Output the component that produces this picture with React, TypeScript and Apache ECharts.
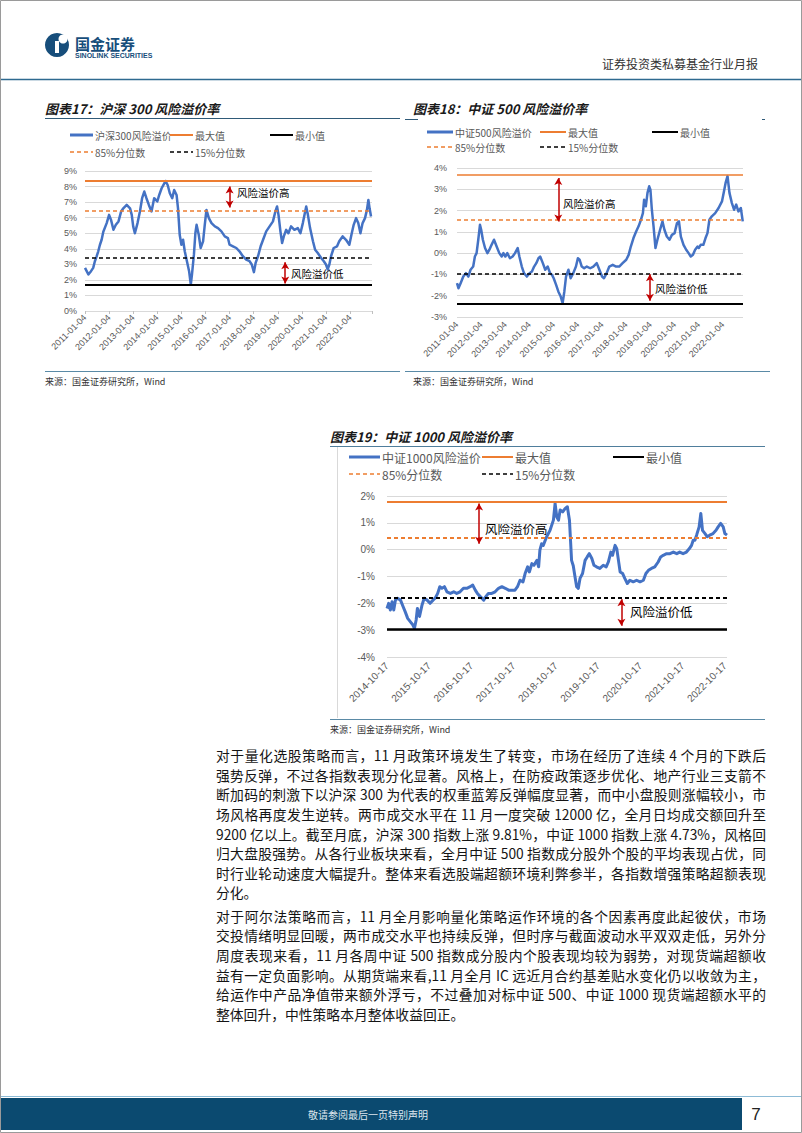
import React, { useEffect, useRef } from "react";
import * as echarts from "echarts";

// ---------- DATA ----------
// 图表17 沪深300风险溢价 (x: decimal year, y: %)
const hs300Series: [number, number][] = [
  [2011.0, 2.77], [2011.14, 2.35], [2011.25, 2.56], [2011.34, 2.77], [2011.41, 3.2], [2011.48, 3.5], [2011.55, 3.84], [2011.62, 4.26], [2011.69, 4.58], [2011.76, 5.1], [2011.9, 5.65],
  [2012.0, 6.18], [2012.08, 5.86], [2012.18, 5.22], [2012.28, 5.54], [2012.39, 5.76], [2012.5, 6.4], [2012.59, 6.6], [2012.73, 6.82], [2012.87, 6.6], [2012.94, 6.18],
  [2013.0, 5.44], [2013.07, 5.0], [2013.18, 5.65], [2013.28, 6.4], [2013.37, 7.25], [2013.46, 7.68], [2013.55, 7.25], [2013.65, 6.82], [2013.76, 6.4], [2013.87, 7.25],
  [2014.0, 7.04], [2014.08, 7.46], [2014.18, 7.89], [2014.29, 8.2], [2014.34, 8.36], [2014.43, 8.1], [2014.52, 7.57], [2014.62, 7.25], [2014.7, 7.78], [2014.8, 7.46], [2014.86, 6.6], [2014.93, 4.9],
  [2015.0, 4.26], [2015.07, 4.58], [2015.14, 3.84], [2015.23, 3.2], [2015.32, 2.56], [2015.39, 1.7], [2015.44, 2.35], [2015.52, 3.62], [2015.58, 5.0], [2015.63, 5.54], [2015.72, 4.9], [2015.8, 4.05], [2015.9, 4.48], [2015.97, 5.54],
  [2016.04, 6.5], [2016.14, 5.97], [2016.25, 5.65], [2016.39, 5.44], [2016.52, 5.33], [2016.66, 5.12], [2016.8, 4.8], [2016.93, 4.69],
  [2017.0, 4.26], [2017.14, 4.16], [2017.28, 4.05], [2017.41, 3.84], [2017.55, 3.52], [2017.69, 3.3], [2017.83, 3.2], [2017.92, 2.99],
  [2018.01, 2.5], [2018.08, 3.09], [2018.18, 3.52], [2018.29, 4.16], [2018.39, 4.58], [2018.52, 5.12], [2018.66, 5.44], [2018.8, 5.76], [2018.9, 6.4], [2018.97, 6.72],
  [2019.03, 6.18], [2019.11, 5.12], [2019.18, 4.37], [2019.25, 4.8], [2019.35, 5.22], [2019.44, 5.0], [2019.55, 5.44], [2019.69, 5.22], [2019.83, 5.33], [2019.94, 5.0],
  [2020.04, 5.65], [2020.18, 6.72], [2020.25, 6.18], [2020.34, 5.33], [2020.46, 4.48], [2020.55, 3.94], [2020.66, 3.73], [2020.8, 3.41], [2020.91, 3.2],
  [2021.0, 2.99], [2021.07, 2.67], [2021.14, 2.99], [2021.21, 3.52], [2021.32, 4.05], [2021.46, 4.16], [2021.55, 4.48], [2021.69, 4.8], [2021.83, 4.58], [2021.97, 4.26],
  [2022.07, 5.0], [2022.15, 5.54], [2022.25, 5.97], [2022.34, 5.65], [2022.43, 5.0], [2022.52, 5.65], [2022.62, 5.97], [2022.7, 6.5], [2022.76, 7.14], [2022.81, 6.6], [2022.87, 6.08],
];
// 最大值, 85%分位数, 15%分位数, 最小值
const hs300Levels = [8.38, 6.46, 3.45, 1.66];

// 图表18 中证500风险溢价
const zz500Series: [number, number][] = [
  [2011.0, -1.41], [2011.06, -1.65], [2011.15, -1.41], [2011.26, -1.1], [2011.37, -0.94], [2011.47, -1.1], [2011.56, -0.78], [2011.67, -0.63], [2011.74, -0.16], [2011.81, 0.0], [2011.88, 0.63], [2011.95, 1.33],
  [2012.0, 1.1], [2012.07, 0.63], [2012.16, 0.24], [2012.26, 0.0], [2012.34, 0.16], [2012.43, 0.39], [2012.53, 0.63], [2012.64, 0.31], [2012.75, 0.0], [2012.85, -0.16], [2012.92, 0.0],
  [2013.0, -0.16], [2013.08, 0.0], [2013.19, -0.24], [2013.3, -0.16], [2013.4, 0.0], [2013.51, 0.24], [2013.58, -0.16], [2013.68, -0.63], [2013.77, -0.94], [2013.89, -1.1],
  [2014.0, -0.94], [2014.1, -0.86], [2014.19, -0.63], [2014.28, -0.47], [2014.37, -0.24], [2014.44, -0.16], [2014.55, -0.47], [2014.65, -0.78], [2014.75, -0.63], [2014.85, -0.94], [2014.93, -1.02],
  [2015.0, -1.18], [2015.1, -1.49], [2015.19, -1.8], [2015.29, -2.04], [2015.37, -2.35], [2015.44, -1.8], [2015.51, -1.1], [2015.61, -0.78], [2015.7, -1.18], [2015.81, -0.94], [2015.92, -0.63],
  [2016.0, -0.24], [2016.07, -0.31], [2016.16, -0.63], [2016.26, -0.71], [2016.37, -0.63], [2016.51, -0.71], [2016.64, -0.63], [2016.78, -0.47], [2016.89, -0.78],
  [2017.0, -1.1], [2017.08, -1.18], [2017.19, -0.94], [2017.3, -0.63], [2017.44, -0.55], [2017.58, -0.63], [2017.71, -0.63], [2017.85, -0.47],
  [2018.0, -0.31], [2018.1, -0.08], [2018.19, 0.31], [2018.3, 0.71], [2018.41, 1.02], [2018.51, 1.26], [2018.61, 1.57], [2018.69, 1.88], [2018.74, 2.51], [2018.81, 2.2], [2018.88, 2.83], [2018.95, 3.14],
  [2019.0, 2.98], [2019.06, 2.04], [2019.13, 1.26], [2019.21, 0.24], [2019.29, 0.63], [2019.4, 1.1], [2019.5, 1.49], [2019.58, 1.1], [2019.68, 0.78], [2019.79, 0.63], [2019.89, 0.86],
  [2020.0, 0.94], [2020.1, 1.41], [2020.18, 1.49], [2020.26, 0.78], [2020.37, 0.39], [2020.48, 0.16], [2020.58, 0.0], [2020.67, -0.16], [2020.76, -0.08], [2020.85, 0.16], [2020.95, 0.31],
  [2021.0, 0.24], [2021.08, 0.39], [2021.19, 0.39], [2021.28, 0.71], [2021.36, 0.94], [2021.44, 1.57], [2021.54, 1.73], [2021.68, 1.88], [2021.82, 2.12], [2021.96, 2.43],
  [2022.03, 2.83], [2022.11, 3.3], [2022.19, 3.62], [2022.27, 2.83], [2022.37, 2.35], [2022.46, 2.04], [2022.55, 2.28], [2022.64, 1.96], [2022.74, 2.12], [2022.82, 1.49],
];
const zz500Levels = [3.66, 1.57, -0.99, -2.36];

// 图表19 中证1000风险溢价 (x: years since 2014-10-17)
const zz1000Series: [number, number][] = [
  [0.0, -2.19], [0.04, -2.0], [0.08, -2.25], [0.12, -1.94], [0.16, -2.25], [0.2, -1.88], [0.25, -1.81], [0.32, -1.88], [0.38, -2.12], [0.43, -2.31], [0.49, -2.56], [0.55, -2.68], [0.61, -2.8], [0.65, -2.93], [0.69, -2.62], [0.72, -2.19], [0.77, -2.49], [0.83, -2.06], [0.88, -1.81], [0.95, -1.88],
  [1.02, -2.0], [1.09, -1.88], [1.14, -1.81], [1.2, -1.63], [1.25, -1.38], [1.3, -1.44], [1.36, -1.38], [1.42, -1.57], [1.5, -1.63], [1.58, -1.57], [1.65, -1.63], [1.73, -1.57], [1.81, -1.44], [1.89, -1.44], [1.97, -1.38],
  [2.03, -1.32], [2.09, -1.51], [2.14, -1.63], [2.21, -1.75], [2.29, -1.88], [2.34, -1.75], [2.4, -1.63], [2.48, -1.63], [2.56, -1.57], [2.64, -1.44], [2.72, -1.38], [2.8, -1.44], [2.88, -1.51], [2.96, -1.51],
  [3.03, -1.51], [3.09, -1.38], [3.15, -1.14], [3.22, -1.2], [3.27, -0.89], [3.33, -0.64], [3.37, -0.83], [3.43, -0.52], [3.48, -0.58], [3.55, -0.4], [3.59, -0.64], [3.62, -0.02], [3.66, 0.22], [3.7, 0.16], [3.78, 0.48], [3.86, 0.72], [3.94, 1.1], [3.98, 1.72],
  [4.02, 1.22], [4.06, 1.1], [4.1, 1.48], [4.16, 1.41], [4.22, 1.54], [4.27, 1.6], [4.32, 1.1], [4.37, -0.4], [4.41, -0.6], [4.45, -1.0], [4.49, -1.38], [4.53, -1.44], [4.57, -1.07], [4.63, -0.89], [4.69, -0.4], [4.74, -0.27], [4.79, -0.15], [4.85, -0.33], [4.9, -0.58], [4.96, -0.64],
  [5.04, -0.7], [5.12, -0.58], [5.19, -0.64], [5.24, -0.46], [5.3, -0.09], [5.34, -0.21], [5.4, 0.16], [5.44, 0.04], [5.48, -0.4], [5.52, -0.83], [5.58, -0.89], [5.63, -1.07], [5.69, -1.26], [5.75, -1.14], [5.83, -1.2], [5.91, -1.14], [5.99, -1.2],
  [6.07, -1.14], [6.13, -0.89], [6.19, -0.77], [6.26, -0.7], [6.34, -0.64], [6.42, -0.46], [6.48, -0.27], [6.54, -0.21], [6.62, -0.15], [6.7, -0.15], [6.78, -0.09], [6.86, -0.15], [6.93, -0.09],
  [7.01, -0.15], [7.09, -0.09], [7.16, 0.04], [7.21, 0.16], [7.25, 0.35], [7.29, 0.35], [7.33, 0.54], [7.39, 0.85], [7.43, 1.35], [7.47, 0.72], [7.53, 0.6], [7.58, 0.48], [7.64, 0.54], [7.72, 0.6], [7.79, 0.72], [7.84, 0.85], [7.9, 0.98], [7.96, 0.85], [8.0, 0.6], [8.05, 0.54],
];
const zz1000Levels = [1.77, 0.45, -1.81, -2.96];

const legend17 = ["沪深300风险溢价", "最大值", "最小值", "85%分位数", "15%分位数"];
const legend18 = ["中证500风险溢价", "最大值", "最小值", "85%分位数", "15%分位数"];
const legend19 = ["中证1000风险溢价", "最大值", "最小值", "85%分位数", "15%分位数"];

const titles = ["图表17：沪深 300 风险溢价率", "图表18：中证 500 风险溢价率", "图表19：中证 1000 风险溢价率"];
const sourceText = "来源：国金证券研究所，Wind";
const highText = "风险溢价高";
const lowText = "风险溢价低";

const para1 = [
  "对于量化选股策略而言，11 月政策环境发生了转变，市场在经历了连续 4 个月的下跌后",
  "强势反弹，不过各指数表现分化显著。风格上，在防疫政策逐步优化、地产行业三支箭不",
  "断加码的刺激下以沪深 300 为代表的权重蓝筹反弹幅度显著，而中小盘股则涨幅较小，市",
  "场风格再度发生逆转。两市成交水平在 11 月一度突破 12000 亿，全月日均成交额回升至",
  "9200 亿以上。截至月底，沪深 300 指数上涨 9.81%，中证 1000 指数上涨 4.73%，风格回",
  "归大盘股强势。从各行业板块来看，全月中证 500 指数成分股外个股的平均表现占优，同",
  "时行业轮动速度大幅提升。整体来看选股端超额环境利弊参半，各指数增强策略超额表现",
  "分化。",
];
const para2 = [
  "对于阿尔法策略而言，11 月全月影响量化策略运作环境的各个因素再度此起彼伏，市场",
  "交投情绪明显回暖，两市成交水平也持续反弹，但时序与截面波动水平双双走低，另外分",
  "周度表现来看，11 月各周中证 500 指数成分股内个股表现均较为弱势，对现货端超额收",
  "益有一定负面影响。从期货端来看,11 月全月 IC 远近月合约基差贴水变化仍以收敛为主，",
  "给运作中产品净值带来额外浮亏，不过叠加对标中证 500、中证 1000 现货端超额水平的",
  "整体回升，中性策略本月整体收益回正。",
];

// ---------- STYLE ----------
const BLUE = "#4472C4";
const ORANGE = "#ED7D31";
const RED = "#C00000";
const GRID = "#D9D9D9";
const LABEL = "#595959";
const LATIN = '"Liberation Sans", "Noto Sans CJK SC", sans-serif';
const CJK = '"Noto Sans CJK SC", "Liberation Sans", sans-serif';

type Panel = {
  data: [number, number][];
  levels: number[];
  grid: { left: number; top: number; width: number; height: number };
  xMin: number; xMax: number; yMin: number; yMax: number;
  xLabel: (v: number) => string;
  xFont: number; yFont: number; xMargin: number; yMargin: number;
  lw: number; refSolid: [number, number]; refDash: number;
  arrows: [number, number, number][];
  ticks: boolean;
};

const isInt = (v: number) => Math.abs(v - Math.round(v)) < 1e-6;

const panels: Panel[] = [
  {
    data: hs300Series, levels: hs300Levels,
    grid: { left: 85, top: 171, width: 287, height: 140 },
    xMin: 2011, xMax: 2022.91, yMin: 0, yMax: 9,
    xLabel: (v) => (isInt(v) ? `${Math.round(v)}-01-04` : ""),
    xFont: 9, yFont: 9, xMargin: 5, yMargin: 8, lw: 2.5, refSolid: [2, 2], refDash: 1.5,
    arrows: [[2017.0, 8.0, 6.65], [2019.31, 3.13, 1.77]], ticks: true,
  },
  {
    data: zz500Series, levels: zz500Levels,
    grid: { left: 457, top: 168, width: 286, height: 149 },
    xMin: 2011, xMax: 2022.83, yMin: -3, yMax: 4,
    xLabel: (v) => (isInt(v) ? `${Math.round(v)}-01-04` : ""),
    xFont: 9, yFont: 9, xMargin: 6, yMargin: 10, lw: 2.5, refSolid: [1.5, 2], refDash: 1.5,
    arrows: [[2015.19, 3.53, 1.49], [2018.98, -0.99, -2.24]], ticks: false,
  },
  {
    data: zz1000Series, levels: zz1000Levels,
    grid: { left: 387, top: 496, width: 340, height: 161 },
    xMin: 0, xMax: 8.05, yMin: -4, yMax: 2,
    xLabel: (v) => (isInt(v) ? `${2014 + Math.round(v)}-10-17` : ""),
    xFont: 10, yFont: 10, xMargin: 7, yMargin: 12, lw: 3, refSolid: [2, 2.5], refDash: 1.8,
    arrows: [[2.18, 1.72, 0.22], [5.55, -1.85, -2.84]], ticks: false,
  },
];

function text(x: number, y: number, t: string, size: number, fill: string, extra: any = {}) {
  return {
    type: "text",
    silent: true,
    style: {
      x, y, text: t, fill,
      font: `${extra.style || ""} ${extra.weight || "normal"} ${size}px ${extra.family || CJK}`,
      align: extra.align || "left",
      verticalAlign: "middle",
    },
  };
}
function line(x1: number, y1: number, x2: number, y2: number, stroke: string, lineWidth: number, dash?: number[]) {
  return {
    type: "line",
    silent: true,
    shape: { x1, y1, x2, y2 },
    style: { stroke, lineWidth, lineDash: dash || null },
  };
}

function legendGraphics(names: string[], x0: number, x1: number, x2: number, r1: number, r2: number, len: number, size: number) {
  const dash = [4, 3];
  const items = [
    { x: x0, y: r1, c: BLUE, w: 3, d: undefined, n: names[0] },
    { x: x1, y: r1, c: ORANGE, w: 2, d: undefined, n: names[1] },
    { x: x2, y: r1, c: "#000", w: 2, d: undefined, n: names[2] },
    { x: x0, y: r2, c: ORANGE, w: 1.5, d: dash, n: names[3] },
    { x: x1, y: r2, c: "#000", w: 1.5, d: dash, n: names[4] },
  ];
  const out: any[] = [];
  items.forEach((it) => {
    out.push(line(it.x, it.y, it.x + len, it.y, it.c, it.w, it.d));
    out.push(text(it.x + len + 2, it.y, it.n, size, LABEL));
  });
  return out;
}

function buildOption() {
  const grids: any[] = [];
  const xAxes: any[] = [];
  const yAxes: any[] = [];
  const series: any[] = [];
  panels.forEach((p, i) => {
    grids.push({ ...p.grid, containLabel: false });
    xAxes.push({
      type: "value", gridIndex: i, min: p.xMin, max: p.xMax, interval: 1,
      axisLine: { show: false },
      axisTick: { show: p.ticks, length: 3, lineStyle: { color: "#BFBFBF" } },
      splitLine: { show: false },
      axisLabel: {
        rotate: 45, fontSize: p.xFont, color: LABEL, fontFamily: LATIN, margin: p.xMargin,
        formatter: p.xLabel, hideOverlap: false,
      },
    });
    yAxes.push({
      type: "value", gridIndex: i, min: p.yMin, max: p.yMax, interval: 1,
      axisLine: { show: false }, axisTick: { show: false },
      splitLine: { lineStyle: { color: GRID, width: 1 } },
      axisLabel: { formatter: "{value}%", fontSize: p.yFont, color: LABEL, fontFamily: LATIN, margin: p.yMargin },
    });
    const arrowLines = p.arrows.map(([x, y1, y2]) => {
      const ls = { color: RED, width: 1.5, type: "solid" };
      return [
        { coord: [x, y1], symbol: "arrow", symbolSize: [6, 7], lineStyle: ls },
        { coord: [x, y2], symbol: "arrow", symbolSize: [6, 7], lineStyle: ls },
      ];
    });
    series.push({
      type: "line", xAxisIndex: i, yAxisIndex: i, data: p.data,
      showSymbol: false, symbol: "none",
      lineStyle: { color: BLUE, width: p.lw, join: "round" },
      itemStyle: { color: BLUE },
      silent: true,
      markLine: {
        silent: true, animation: false, symbol: ["none", "none"],
        label: { show: false }, emphasis: { disabled: true },
        data: [
          { yAxis: p.levels[0], lineStyle: { color: ORANGE, width: p.refSolid[0], type: "solid" } },
          { yAxis: p.levels[1], lineStyle: { color: ORANGE, width: p.refDash, type: [4, 3] } },
          { yAxis: p.levels[2], lineStyle: { color: "#000", width: p.refDash, type: [4, 3] } },
          { yAxis: p.levels[3], lineStyle: { color: "#000", width: p.refSolid[1], type: "solid" } },
          ...arrowLines,
        ],
      },
    });
  });

  const g: any[] = [];
  // page frame
  g.push({ type: "rect", silent: true, shape: { x: 0.5, y: 0.5, width: 801, height: 1132 }, style: { fill: "none", stroke: "#9a9a9a", lineWidth: 1 } });
  // header
  g.push({ type: "circle", silent: true, shape: { cx: 57, cy: 45, r: 12 }, style: { fill: "#174E7B" } });
  g.push({ type: "circle", silent: true, shape: { cx: 63, cy: 39, r: 4.5 }, style: { fill: "#fff" } });
  g.push({ type: "rect", silent: true, shape: { x: 55, y: 41, width: 4, height: 12 }, style: { fill: "#fff" } });
  g.push(text(75, 43, "国金证券", 15, "#174E7B", { weight: "bold" }));
  g.push(text(75, 55, "SINOLINK SECURITIES", 7, "#174E7B", { weight: "bold", family: LATIN }));
  g.push(text(758, 63, "证券投资类私募基金行业月报", 12, "#333", { align: "right" }));
  g.push(line(1, 79.5, 801, 79.5, "#2E6A90", 1.5));

  // titles & rules
  g.push(text(45, 108, titles[0], 13, "#1a1a1a", { style: "italic", weight: "bold" }));
  g.push(line(45, 118.5, 400, 118.5, "#2F5A78", 1));
  g.push(text(413, 108, titles[1], 13, "#1a1a1a", { style: "italic", weight: "bold" }));
  g.push(line(405, 119.5, 418, 119.5, "#2F5A78", 1));
  g.push(line(762, 119.5, 765, 119.5, "#2F5A78", 1));
  g.push(text(330, 436, titles[2], 13, "#1a1a1a", { style: "italic", weight: "bold" }));
  g.push(line(330, 446.5, 765, 446.5, "#4F7E9C", 1));
  g.push(line(337.5, 447, 337.5, 718, GRID, 1));

  // sources
  g.push(line(45, 371.5, 400, 371.5, "#5A8AA6", 1.2));
  g.push(text(45, 381, sourceText, 9, "#333"));
  g.push(line(405, 371.5, 770, 371.5, "#5A8AA6", 1.2));
  g.push(text(413, 381, sourceText, 9, "#333"));
  g.push(line(330, 719.5, 765, 719.5, "#5A8AA6", 1.2));
  g.push(text(330, 729, sourceText, 9, "#333"));

  // legends
  g.push(...legendGraphics(legend17, 70, 170, 270, 135, 152, 23, 10));
  g.push(...legendGraphics(legend18, 427, 540, 652, 132, 147, 26, 10));
  g.push(...legendGraphics(legend19, 349, 482, 613, 457, 474, 31, 12));

  // annotations
  g.push(text(237, 192, highText, 10.5, "#000"));
  g.push(text(291, 273, lowText, 10.5, "#000"));
  g.push(text(563, 203, highText, 10.5, "#000"));
  g.push(text(655, 288, lowText, 10.5, "#000"));
  g.push(text(485, 528, highText, 12.5, "#000"));
  g.push(text(630, 611, lowText, 12.5, "#000"));

  // footer
  g.push(line(1, 1096.5, 801, 1096.5, "#8DBBD6", 1));
  g.push({ type: "rect", silent: true, shape: { x: 1, y: 1098, width: 741, height: 32 }, style: { fill: "#0B4A70" } });
  g.push(text(368, 1114, "敬请参阅最后一页特别声明", 10, "#DDE6EE", { align: "center" }));
  g.push(text(756, 1114, "7", 17, "#222", { align: "center", family: LATIN }));

  return {
    animation: false,
    backgroundColor: "#fff",
    grid: grids,
    xAxis: xAxes,
    yAxis: yAxes,
    series,
    graphic: { elements: g },
  };
}

export default function App() {
  const ref = useRef<HTMLDivElement>(null);
  useEffect(() => {
    if (!ref.current) return;
    const chart = echarts.init(ref.current, undefined, { renderer: "svg" });
    chart.setOption(buildOption() as any);
    return () => chart.dispose();
  }, []);

  const lineGap = 19.55;
  const renderPara = (lines: string[], firstCenter: number, key: string) =>
    lines.map((t, i) => {
      const last = i === lines.length - 1;
      return (
        <div
          key={key + i}
          style={{
            position: "absolute",
            left: 216,
            width: 550,
            top: firstCenter + i * lineGap - 10,
            height: 20,
            lineHeight: "20px",
            fontSize: 13.8,
            fontFamily: CJK,
            color: "#141414",
            textAlign: last ? "left" : "justify",
            textAlignLast: last ? "left" : "justify",
            overflow: "hidden",
          } as any}
        >
          {t}
        </div>
      );
    });

  return (
    <div style={{ position: "absolute", left: 0, top: 0, width: 802, height: 1133, background: "#fff" }}>
      <div ref={ref} style={{ position: "absolute", left: 0, top: 0, width: 802, height: 1133 }} />
      {renderPara(para1, 755.3, "p1-")}
      {renderPara(para2, 915.9, "p2-")}
    </div>
  );
}
